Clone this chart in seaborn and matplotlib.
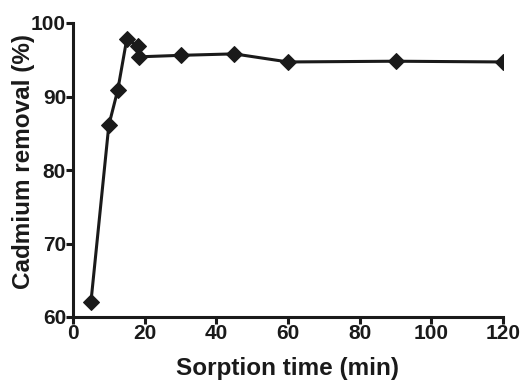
import matplotlib

matplotlib.use("Agg")
import matplotlib.pyplot as plt
import pandas as pd
import seaborn as sns

# values
time_min = [5, 10, 12.5, 15, 18, 18.5, 30, 45, 60, 90, 120]
removal_pct = [62.0, 86.1, 90.9, 97.8, 96.9, 95.4, 95.6, 95.8, 94.7, 94.8, 94.7]
x_ticks = [0, 20, 40, 60, 80, 100, 120]
y_ticks = [60, 70, 80, 90, 100]

sns.set_theme(style="ticks")
plt.rcParams["font.family"] = ["Liberation Sans", "DejaVu Sans"]
plt.rcParams["font.weight"] = "bold"

df = pd.DataFrame({"time": time_min, "removal": removal_pct})

fig = plt.figure(figsize=(5.25, 3.81), dpi=100)
ax = fig.add_axes([73 / 525, 1 - 317 / 381, (503 - 73) / 525, (317 - 23) / 381])

sns.lineplot(data=df, x="time", y="removal", ax=ax, color="#1a1a1a", lw=2.2,
             marker="D", markersize=8.5, markeredgecolor="#1a1a1a", sort=False)

ax.set_xlim(0, 120)
ax.set_ylim(60, 100)
ax.set_xticks(x_ticks)
ax.set_yticks(y_ticks)
ax.tick_params(width=2.2, length=5, color="#1a1a1a", labelsize=15, pad=0,
               labelcolor="#1a1a1a")
for s in ["top", "right"]:
    ax.spines[s].set_visible(False)
for s in ["left", "bottom"]:
    ax.spines[s].set_linewidth(2.2)
    ax.spines[s].set_color("#1a1a1a")

ax.set_xlabel("Sorption time (min)", fontsize=17.5, fontweight="bold", color="#1a1a1a", labelpad=10)
ax.set_ylabel("Cadmium removal (%)", fontsize=17.5, fontweight="bold", color="#1a1a1a")
ax.yaxis.set_label_coords(-0.088, 0.53)
for lab in ax.get_xticklabels() + ax.get_yticklabels():
    lab.set_fontweight("bold")

fig.savefig("out.png", dpi=100)
